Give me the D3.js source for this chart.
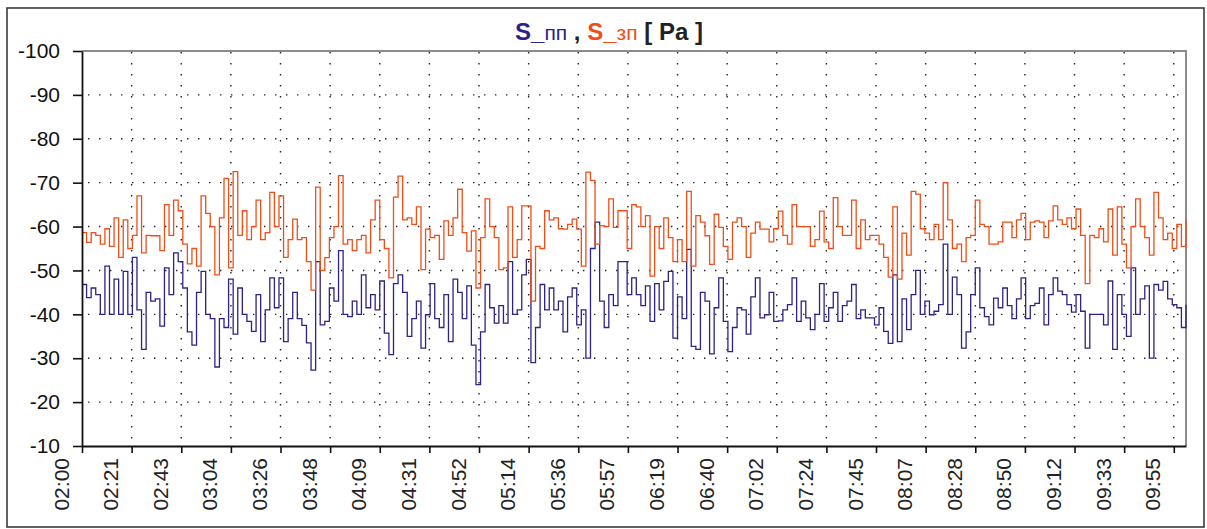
<!DOCTYPE html>
<html>
<head>
<meta charset="utf-8">
<script src="https://cdn.jsdelivr.net/npm/d3@7"></script>
<style>
  body { margin: 0; background: #fff; }
  .grid line { stroke: #222; stroke-width: 1.4; stroke-dasharray: 1.4 9.6; }
  .line { fill: none; stroke-width: 1.3; }
</style>
</head>
<body>
<svg id="chart" width="1207" height="529"></svg>
<script>
// time labels on the x axis, one every 65/3 minutes from 02:00
const timeLabels = ["02:00", "02:21", "02:43", "03:04", "03:26", "03:48", "04:09", "04:31",
  "04:52", "05:14", "05:36", "05:57", "06:19", "06:40", "07:02", "07:24", "07:45", "08:07",
  "08:28", "08:50", "09:12", "09:33", "09:55"];
const yTicks = [-100, -90, -80, -70, -60, -50, -40, -30, -20, -10];
const stepMinutes = 2;

// S_пп  (read every 2 minutes)
const sPP = [-46.8, -43.8, -46, -44.5, -40, -51, -40, -48, -40, -49.8, -40, -53, -41, -32, -45, -43,
  -43.5, -37.3, -50.6, -44.5, -54, -52, -46, -36, -33, -45, -49.8, -40, -39, -28, -39, -37, -48,
  -35.5, -46, -40, -38.4, -36.1, -44.5, -33.8, -41, -48.3, -41.5, -48.3, -33.8, -39, -45, -39,
  -37.5, -33.5, -27.3, -52, -37.6, -38.4, -46, -43, -54.5, -40,
  -39.5, -43, -40, -49, -41.5, -44.5, -41, -47.6, -35.7, -30.8, -47, -49, -45, -35, -39, -43,
  -32.3, -39.9, -47, -39, -37, -44.5, -33.8, -48, -45, -39, -46.5, -33, -24, -36, -46.8, -41.5,
  -38, -42, -38, -52, -40, -41, -49, -52.5, -29, -37, -46.8, -41, -46, -41, -43, -36, -44, -46,
  -37.6, -41, -30, -55, -61, -43, -37, -44.5, -42, -52,
  -52, -44.5, -48.3, -44.5, -42, -46.5, -38.4, -47, -41, -47.5, -49.8, -34.6, -44, -39, -54.8,
  -32.7, -32, -45, -43, -31, -41.5, -48.3, -38.4, -31.5, -37, -41.5, -41, -35.5, -44, -48.3,
  -39.2, -39.9, -45, -38.4, -38.5, -41, -42.2, -48.3, -38.4, -43, -39.2, -36.5, -40, -47, -38.4,
  -41.5, -45, -38.4, -42, -43, -46.8, -39, -41, -39.2, -39.2, -37.6, -41.5, -36.1, -33.4, -49, -33.8,
  -43.5, -36.5, -44.5, -50, -40, -43, -39.9, -40.7, -42.2, -56, -40, -48.5, -44.5, -32.3, -36,
  -44.5, -50.6, -41.5, -39.5, -37.6, -43.7, -41.5, -46, -42, -39, -43.5, -48.3, -39, -42, -42.5,
  -46, -37.6, -44.5, -48.3, -45.3, -44.5, -42.2, -40.5, -44.5, -40.7, -32.3, -40, -40, -40, -37.6,
  -47.6, -32, -44.5, -40, -35, -50.6, -40, -43.5, -46.5, -30, -46.8, -45.5, -47.5, -43.5, -42.2,
  -41.5, -37, -42.2];

// S_зп  (read every 2 minutes)
const sZP = [-58.6, -56.4, -58.6, -58, -56, -59.5, -55.5, -62, -53, -61.5, -55, -58, -67, -54, -58,
  -57.9, -57.9, -54.5, -65, -58, -66, -63.6, -56, -51.5, -55, -51, -67, -63, -60, -49, -62, -71,
  -50.6, -72.5, -58, -63.6, -57, -60, -66, -57, -58.6, -67.8, -60, -67, -53, -57, -61.7, -57,
  -57.5, -52, -45.5, -69, -50, -52.9, -57.5, -60, -71.6, -56,
  -57, -54.5, -57, -58, -54, -61.5, -66, -57, -55, -48.3, -66.7, -71.5, -61.5, -62, -60.5, -64.5,
  -50.2, -59.4, -57.5, -58, -52.5, -61.3, -58, -62, -68.5, -58.6, -54.4, -59, -46, -57.5, -66.3,
  -60, -57.5, -50.2, -50.6, -64.5, -53, -57, -64.7, -64.7, -43, -55.5, -55, -63.6, -61.5, -62,
  -59.5, -59.4, -60.5, -61.7, -59.4, -51, -72.4, -70.5, -56, -60.2, -60, -66.3, -59.8, -63.6,
  -63.6, -55, -65, -64.5, -60, -62.5, -48.7, -60, -55, -62, -57.5, -52, -57, -52, -68, -51, -62.5,
  -61, -57.9, -51.4, -62.8, -59.8, -55.5, -52.5, -61, -62, -60, -53, -58.5, -61, -59.4, -59.4,
  -56.5, -59.5, -63.5, -58, -56, -65, -60, -60, -60, -55.5, -57, -63.5, -56.5, -55, -66.6, -60,
  -58, -58, -66, -55, -61.5, -57, -58, -58, -56, -53, -48.5, -64.5, -48,
  -58.5, -53.5, -68, -67.4, -59.5, -58.5, -57, -60.5, -57, -70, -61.5, -55, -56, -52, -57.5, -58,
  -66, -60.5, -60, -56, -56, -56.5, -61, -61, -57.5, -61.5, -63, -57, -61, -61.3, -61, -57.5,
  -61.3, -64.7, -61.5, -60.5, -62, -59.5, -64, -58, -47, -58, -57.5, -59.5, -56.5, -64, -53.5,
  -64.5, -56, -50.6, -60, -66.3, -60, -57.5, -53.5, -67.8, -62, -57, -58.5, -55, -60.5, -55.5, -61.5];

const svg = d3.select("#chart");

const plotLeft = 82;
const plotRight = 1186;
const plotTop = 51;
const plotBottom = 446;
const endMinute = 482;
const labelStep = 65 / 3;

const xScale = d3.scaleLinear().domain([0, endMinute]).range([plotLeft, plotRight]);
const yScale = d3.scaleLinear().domain([-100, -10]).range([plotTop, plotBottom]);

// outer border
svg.append("rect")
  .attr("x", 7).attr("y", 8)
  .attr("width", 1197).attr("height", 519)
  .attr("fill", "none")
  .attr("stroke", "#3a3a3a")
  .attr("stroke-width", 1.6);

const tickMinutes = timeLabels.map((d, i) => i * labelStep);

// dotted grid
const grid = svg.append("g").attr("class", "grid");
grid.selectAll(".h")
  .data(yTicks.filter((d) => d > -100 && d < -10))
  .enter()
  .append("line")
  .attr("x1", plotLeft + 6).attr("x2", plotRight)
  .attr("y1", (d) => yScale(d)).attr("y2", (d) => yScale(d));
grid.selectAll(".v")
  .data(tickMinutes.slice(1))
  .enter()
  .append("line")
  .attr("x1", (d) => xScale(d)).attr("x2", (d) => xScale(d))
  .attr("y1", plotTop + 1).attr("y2", plotBottom);

// top and right frame
svg.append("path")
  .attr("d", `M${plotLeft},${plotTop}H${plotRight}V${plotBottom}`)
  .attr("fill", "none")
  .attr("stroke", "#8c8c8c")
  .attr("stroke-width", 2);

const rows = (values) => values.map((v, i) => ({ minute: i * stepMinutes, value: v }));

const valueLine = d3.line()
  .curve(d3.curveStepAfter)
  .x((d) => xScale(d.minute))
  .y((d) => yScale(d.value));

svg.append("path")
  .datum(rows(sPP))
  .attr("class", "line")
  .attr("stroke", "#2d2286")
  .attr("d", valueLine);

svg.append("path")
  .datum(rows(sZP))
  .attr("class", "line")
  .attr("stroke", "#f04e16")
  .attr("d", valueLine);

// axes
const yAxis = svg.append("g")
  .attr("transform", `translate(${plotLeft},0)`)
  .call(d3.axisLeft(yScale)
    .tickValues(yTicks)
    .tickFormat((d) => String(d))
    .tickSize(9)
    .tickSizeOuter(0)
    .tickPadding(13));
yAxis.select(".domain").attr("stroke", "#111").attr("stroke-width", 1.8);
yAxis.selectAll(".tick line").attr("stroke", "#111").attr("stroke-width", 1.6);
yAxis.selectAll("text")
  .attr("font-family", "Liberation Sans, Arial, sans-serif")
  .attr("font-size", 21)
  .attr("fill", "#111");

const xAxis = svg.append("g")
  .attr("transform", `translate(0,${plotBottom})`)
  .call(d3.axisBottom(xScale)
    .tickValues(tickMinutes)
    .tickFormat((d, i) => timeLabels[i])
    .tickSize(7)
    .tickSizeOuter(0));
xAxis.select(".domain").attr("stroke", "#111").attr("stroke-width", 1.8);
xAxis.selectAll(".tick line").attr("stroke", "#111").attr("stroke-width", 1.6);
xAxis.selectAll("text")
  .attr("transform", "rotate(-90)")
  .attr("x", -12)
  .attr("y", -14)
  .attr("dy", 0)
  .attr("text-anchor", "end")
  .attr("font-family", "Liberation Sans, Arial, sans-serif")
  .attr("font-size", 21)
  .attr("fill", "#222");

// title
const title = svg.append("text")
  .attr("x", 609)
  .attr("y", 40)
  .attr("text-anchor", "middle")
  .attr("font-family", "Liberation Sans, Arial, sans-serif")
  .attr("font-size", 24);
title.append("tspan").attr("fill", "#2d2286").attr("font-weight", "bold").text("S_");
title.append("tspan").attr("fill", "#2d2286").attr("font-size", 21).text("пп");
title.append("tspan").attr("fill", "#222").attr("font-weight", "bold").text(" , ");
title.append("tspan").attr("fill", "#f04e16").attr("font-weight", "bold").text("S_");
title.append("tspan").attr("fill", "#f04e16").attr("font-size", 21).text("зп");
title.append("tspan").attr("fill", "#222").attr("font-weight", "bold").text(" [ Pa ]");
</script>
</body>
</html>
